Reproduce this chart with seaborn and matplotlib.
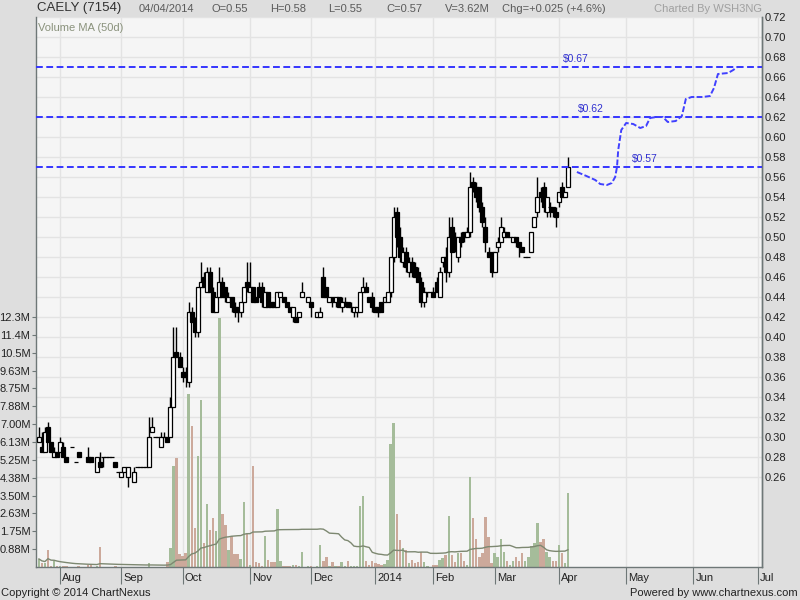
import matplotlib
matplotlib.use("Agg")
import matplotlib.pyplot as plt
import matplotlib.transforms as mtransforms
import numpy as np
import pandas as pd
import seaborn as sns

# ---- quote header ----
SYMBOL = "CAELY (7154)"
HEADER = [("04/04/2014", 139), ("O=0.55", 212), ("H=0.58", 270), ("L=0.55", 328),
          ("C=0.57", 386), ("V=3.62M", 445), ("Chg=+0.025 (+4.6%)", 502)]

# ---- daily OHLC + volume (M), one entry per trading day, None = no trade ----
opens = [
    .295, .29, .285, .31, .295, .28, .285, .285, .29, .28,
    None, .29, .275, .285, None, None, .28, .28, None, .265,
    .275, .28, .28, .28, .28, .275, .265, .26, .265, .26,
    None, .255, .27, .27, .27, .27, .27, .305, .30, .30,
    .29, .30, .30, .30, .33, .385, .38, .365, .365, .355,
    .425, .415, .405, .45, .46, .445, .465, .445, .425, .44,
    .455, .45, .435, .44, .43, .43, .425, .435, .455, .445,
    .45, .44, .45, .45, .43, .445, .435, .435, .43, .44,
    .44, .435, .43, .42, .42, .42, .44, None, .435, .435,
    None, .42, .42, .46, .45, .435, .44, .435, .44, .43,
    .435, .435, .43, .425, .425, .425, .445, .45, .44, .44,
    .43, .43, .435, .435, .435, .445, .48, .525, .50, .475,
    .485, .465, .475, .47, .465, .455, .435, .445, .445, .445,
    .455, .44, .475, .48, .465, .51, .50, .48, .50, .505,
    .50, .505, .555, .55, .55, .53, .51, .485, .485, .465,
    .49, .495, .50, .505, .50, .495, .50, .495, .49, .48,
    .48, .485, .51, .525, .545, .55, .525, .53, .53, .525,
    .535, .55, .54, .55,
]
highs = [
    .31, .305, .31, .315, .295, .29, .285, .30, .295, .28,
    None, .29, .275, .285, None, None, .29, .28, None, .28,
    .285, .28, .28, .28, .28, .275, .265, .265, .27, .27,
    None, .27, .27, .27, .27, .27, .32, .32, .30, .30,
    .305, .305, .30, .34, .41, .41, .385, .37, .37, .435,
    .43, .42, .45, .475, .465, .47, .47, .45, .44, .47,
    .46, .45, .445, .44, .435, .43, .435, .45, .475, .475,
    .45, .44, .455, .455, .445, .445, .435, .435, .445, .445,
    .44, .435, .43, .43, .42, .425, .455, None, .44, .435,
    None, .425, .43, .47, .45, .44, .44, .44, .44, .44,
    .44, .435, .435, .43, .43, .445, .46, .455, .44, .445,
    .43, .43, .435, .44, .445, .48, .53, .53, .51, .49,
    .49, .48, .48, .475, .47, .46, .45, .445, .445, .45,
    .46, .47, .48, .49, .52, .52, .505, .50, .505, .505,
    .51, .565, .56, .555, .55, .535, .52, .49, .485, .485,
    .50, .52, .51, .505, .50, .50, .50, .495, .49, .48,
    .48, .505, .52, .56, .55, .555, .54, .535, .53, .53,
    .545, .555, .545, .58,
]
lows = [
    .295, .285, .285, .295, .285, .28, .28, .285, .28, .275,
    None, .29, .275, .28, None, None, .275, .275, None, .265,
    .27, .27, .28, .28, .28, .27, .265, .26, .265, .25,
    None, .255, .27, .27, .27, .27, .27, .305, .30, .30,
    .29, .30, .295, .30, .33, .38, .37, .355, .35, .35,
    .415, .40, .40, .45, .45, .445, .445, .425, .425, .44,
    .44, .435, .435, .425, .42, .415, .42, .435, .445, .445,
    .435, .435, .44, .43, .43, .43, .43, .43, .43, .44,
    .435, .43, .425, .415, .415, .42, .44, None, .435, .42,
    None, .42, .42, .44, .44, .435, .43, .43, .43, .425,
    .43, .43, .425, .42, .42, .425, .445, .445, .435, .425,
    .425, .42, .425, .435, .435, .44, .475, .49, .475, .47,
    .465, .46, .46, .46, .455, .43, .43, .44, .445, .44,
    .445, .44, .47, .455, .46, .485, .485, .475, .49, .495,
    .50, .50, .545, .535, .525, .51, .485, .48, .46, .465,
    .485, .495, .50, .50, .50, .495, .49, .48, .485, .48,
    .48, .485, .51, .52, .535, .525, .52, .52, .52, .51,
    .53, .54, .54, .55,
]
closes = [
    .30, .285, .305, .295, .285, .285, .28, .295, .28, .275,
    None, .29, .275, .28, None, None, .275, .275, None, .28,
    .27, .28, .28, .28, .28, .27, .265, .265, .27, .27,
    None, .265, .27, .27, .27, .27, .30, .31, .30, .30,
    .30, .30, .295, .33, .38, .38, .37, .36, .36, .425,
    .415, .405, .45, .455, .45, .465, .445, .425, .44, .455,
    .44, .44, .44, .43, .425, .425, .435, .45, .45, .45,
    .435, .435, .44, .435, .445, .43, .43, .43, .445, .445,
    .435, .43, .425, .43, .415, .425, .445, None, .44, .43,
    None, .425, .425, .44, .44, .44, .435, .44, .43, .435,
    .435, .43, .43, .43, .43, .445, .45, .445, .435, .43,
    .425, .425, .425, .44, .445, .48, .52, .50, .48, .485,
    .47, .475, .465, .46, .455, .435, .445, .445, .445, .44,
    .445, .465, .48, .465, .50, .485, .49, .50, .495, .50,
    .505, .55, .55, .54, .53, .515, .495, .48, .465, .485,
    .495, .51, .505, .50, .50, .50, .495, .49, .485, .48,
    .48, .505, .52, .54, .54, .53, .54, .53, .525, .52,
    .545, .54, .545, .57,
]
volumes = [
    .40, .20, .20, .83, .05, .30, .05, .05, .05, .05,
    None, 0, 0, .05, None, None, .08, .08, None, .03,
    1.0, .02, 0, 0, 0, .05, 0, .02, .02, .02,
    None, .02, 0, 0, 0, 0, .20, .02, 0, 0,
    .02, 0, .26, .95, 4.95, 5.36, .64, .55, .68, 8.48,
    6.9, 1.9, 5.44, 8.2, 1.2, 3.1, 1.8, 2.4, 1.76, 12.2,
    2.6, 2.06, .83, 1.5, .64, .64, .39, 3.2, 1.6, .10,
    4.95, .25, .20, .05, 1.5, .34, .25, .25, 2.84, .30,
    .05, .05, .05, .10, .08, .05, .74, None, .05, .05,
    None, .05, 1.08, .30, .50, .05, .25, .05, .05, .25,
    .05, .30, .05, .05, .05, 3.0, 3.5, .30, .10, .27,
    .20, .15, .10, .15, .34, 6.03, 7.07, 2.6, 1.32, .93,
    .83, .20, .34, .20, .25, .74, .25, .05, 0, .10,
    .10, .34, .44, .60, 2.5, .60, .25, .70, .70, .30,
    .10, 4.42, 2.42, 1.37, .50, .70, 2.47, 1.49, .20, .70,
    .50, 1.37, .75, .30, .10, .30, .50, .30, .70, .30,
    .50, 1.04, 1.17, 2.17, 1.24, 1.37, .75, .50, .30, .30,
    1.08, .70, .20, 3.62,
]

# target levels and hand drawn projection (trading-day index, price)
levels = [0.67, 0.62, 0.57]
level_labels = ["$0.67", "$0.62", "$0.57"]
level_label_pos = [171.4, 176.3, 193.9]
proj_idx = [175.9, 179.0, 181.9, 183.5, 185.7, 187.3, 188.4, 189.0, 189.4, 190.4, 192.0,
            194.3, 196.6, 198.5, 199.8, 201.8, 204.0, 205.6, 208.2, 210.2, 211.5,
            213.4, 217.0, 219.4, 220.7, 222.0, 225.3, 227.0, 228.3]
proj_price = [.565, .561, .557, .553, .552, .554, .560, .570, .587, .607, .614,
              .613, .609, .611, .619, .620, .620, .615, .616, .621, .638,
              .640, .640, .641, .649, .663, .664, .667, .670]

HOLIDAYS = ["2013-08-08", "2013-08-09", "2013-09-16", "2013-10-15", "2013-11-05",
            "2013-12-25", "2014-01-01", "2014-01-14", "2014-01-17", "2014-01-31"]

price_ticks = np.round(np.arange(0.26, 0.7201, 0.02), 2)
vol_ticks = [0.875 * k for k in range(1, 15)]
vol_labels = ["0.88M", "1.75M", "2.63M", "3.50M", "4.38M", "5.25M", "6.13M",
              "7.00M", "7.88M", "8.75M", "9.63M", "10.5M", "11.4M", "12.3M"]

BG = "#dedede"
PANEL = "#f5f5f5"
GRID = "#e3e3e3"
SPINE = "#6e7777"
UP_VOL = "#a3c294"
DOWN_VOL = "#d4a593"
BLUE = "#3535ff"

sns.set_theme(style="white")
plt.rcParams["font.family"] = ["Liberation Sans", "DejaVu Sans"]

# trading calendar: history without exchange holidays, future as plain weekdays
hist_days = pd.bdate_range("2013-07-23", "2014-04-04")
hist_days = hist_days[~hist_days.isin(pd.to_datetime(HOLIDAYS))]
future_days = pd.bdate_range("2014-04-07", "2014-07-15")
all_days = hist_days.append(future_days)

df = pd.DataFrame({
    "open": np.array(opens, dtype=float),
    "high": np.array(highs, dtype=float),
    "low": np.array(lows, dtype=float),
    "close": np.array(closes, dtype=float),
    "volume": np.array(volumes, dtype=float),
})
df["idx"] = np.arange(len(df))
df["date"] = hist_days[: len(df)]
df["dir"] = np.where(df["close"] >= df["open"], "up", "down")
df["vol_ma"] = df["volume"].fillna(0).rolling(50, min_periods=1).mean()
trades = df.dropna(subset=["open"])

month_pos, month_lab = [], []
for i in range(1, len(all_days)):
    if all_days[i].month != all_days[i - 1].month:
        month_pos.append(i)
        month_lab.append("2014" if all_days[i].month == 1 else all_days[i].strftime("%b"))

fig = plt.figure(figsize=(8, 6), dpi=100, facecolor=BG)
rect = [36 / 800, 1 - 567 / 600, (762 - 36) / 800, (567 - 17) / 600]
ax_vol = fig.add_axes(rect, facecolor=PANEL)
ax = ax_vol.twinx()

# volume panel
sns.barplot(data=trades, x="idx", y="volume", hue="dir", palette={"up": UP_VOL, "down": DOWN_VOL},
            native_scale=True, dodge=False, width=0.8, errorbar=None, legend=False,
            linewidth=0, ax=ax_vol)
sns.lineplot(data=df, x="idx", y="vol_ma", color="#7d8871", lw=1.0, ax=ax_vol)

# price gridlines under the bars
for p in price_ticks:
    ax_vol.plot([0, 1], [p, p], transform=ax.get_yaxis_transform(), color=GRID, lw=1, zorder=0)

# candles
ax.vlines(trades["idx"], trades["low"], trades["high"], color="black", lw=1.0, zorder=3)
ax.bar(trades["idx"], (trades["close"] - trades["open"]).abs(),
       bottom=np.minimum(trades["open"], trades["close"]), width=1.3,
       color=np.where(trades["dir"] == "up", "white", "black"),
       edgecolor="black", linewidth=0.9, zorder=4)

# target lines and projection
for lvl, lab, pos in zip(levels, level_labels, level_label_pos):
    ax.axhline(lvl, color=BLUE, lw=1.4, ls=(0, (3.5, 1.8)), zorder=5)
    ax.text(pos, lvl + 0.008, lab, color="#3030d0", fontsize=7.5, va="center", ha="left", zorder=6)
sns.lineplot(x=proj_idx, y=proj_price, sort=False, estimator=None, color="#4040ff", lw=1.4,
             ax=ax, zorder=6)
ax.get_lines()[-1].set_linestyle((0, (3, 1.2)))

# axes
ax_vol.set_xlim(-0.92, 236.4)
ax_vol.set_ylim(0, 26.95)
ax.set_ylim(0.17, 0.72)
ax_vol.set_xlabel("")
ax_vol.set_ylabel("")
ax.set_ylabel("")

ax_vol.set_xticks(month_pos)
ax_vol.set_xticklabels([])
ax_vol.grid(axis="x", color=GRID, lw=1)
ax_vol.set_axisbelow(True)
ax_vol.tick_params(axis="x", length=12, width=0.8, color=SPINE, direction="out", bottom=True)
lab_tr = mtransforms.offset_copy(ax_vol.get_xaxis_transform(), fig=fig, x=2, y=-11, units="dots")
for pos, lab in zip(month_pos, month_lab):
    ax_vol.text(pos, 0, lab, transform=lab_tr, ha="left", va="center", fontsize=8, color="#222222")

ax_vol.set_yticks(vol_ticks)
ax_vol.set_yticklabels(vol_labels)
ax_vol.tick_params(axis="y", left=True, length=3, width=0.8, color=SPINE, pad=1,
                   labelsize=8, labelcolor="#222222")

ax.set_yticks(price_ticks)
ax.set_yticklabels([f"{p:.2f}" for p in price_ticks])
ax.tick_params(axis="y", right=True, length=0, pad=2, labelsize=8, labelcolor="#222222")
ax.grid(False)

for a in (ax, ax_vol):
    for side in a.spines:
        a.spines[side].set_color(SPINE)
        a.spines[side].set_linewidth(1.0)
    a.spines["top"].set_visible(False)
ax.spines["left"].set_visible(False)
ax.spines["bottom"].set_visible(False)

# texts
def fx(px):
    return px / 800

def fy(py):
    return 1 - py / 600

fig.text(fx(37), fy(8.5), SYMBOL, fontsize=9.5, color="#303030", va="center", ha="left")
for txt, px in HEADER:
    fig.text(fx(px), fy(8.5), txt, fontsize=8, color="#5a5a5a", va="center", ha="left")
fig.text(fx(762), fy(8.5), "Charted By WSH3NG", fontsize=8, color="#a0a0a0", va="center", ha="right")
fig.text(fx(38), fy(28), "Volume MA (50d)", fontsize=8, color="#8a927c", va="center", ha="left")
fig.text(fx(1), fy(593), "Copyright \u00a9 2014 ChartNexus", fontsize=8, color="#222222",
         va="center", ha="left")
fig.text(fx(798), fy(593), "Powered by www.chartnexus.com", fontsize=8, color="#222222",
         va="center", ha="right")

fig.savefig("out.png", dpi=100, facecolor=BG)
